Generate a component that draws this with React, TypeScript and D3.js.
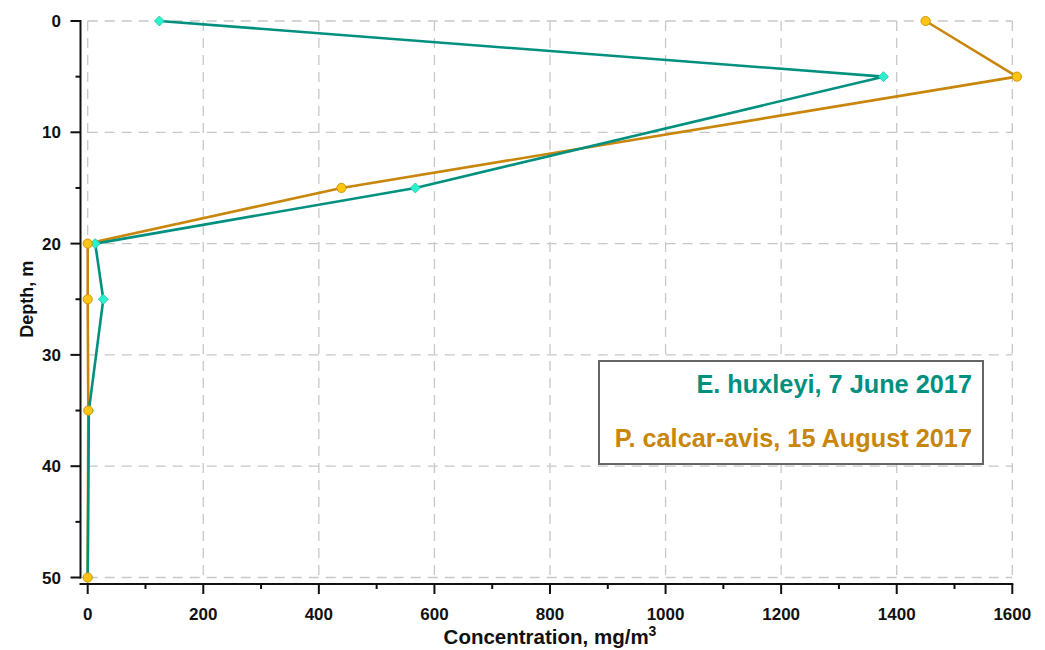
import React from "react";
import * as d3 from "d3";

const depths = [0, 5, 15, 20, 25, 35, 50];
const huxleyi = [124, 1377, 567, 13, 27, 2, 0];
const calcarAvis = [1450, 1608, 439, 0, 0, 1, 0];
const xTicks = [0, 200, 400, 600, 800, 1000, 1200, 1400, 1600];
const yTicks = [0, 10, 20, 30, 40, 50];
const legendLabels = ["E. huxleyi, 7 June 2017", "P. calcar-avis, 15 August 2017"];

const W = 1045;
const H = 650;
const TEAL = "#00907f";
const TEAL_FILL = "#2df0cc";
const ORANGE = "#c8860a";
const ORANGE_FILL = "#ffc414";
const FONT = "'Liberation Sans', Arial, sans-serif";

export default function App() {
  const x = d3.scaleLinear().domain([0, 1600]).range([87.7, 1012.3]);
  const y = d3.scaleLinear().domain([0, 50]).range([21, 577.5]);
  const xLeft = 80.5;
  const xAxisY = 584;
  const xMinor = d3.range(100, 1600, 200);
  const yMinor = d3.range(5, 50, 10);

  const line = d3
    .line<number>()
    .x((v) => x(v))
    .y((_, i) => y(depths[i]));

  const diamond = (cx: number, cy: number, r: number) =>
    `M${cx},${cy - r}L${cx + r},${cy}L${cx},${cy + r}L${cx - r},${cy}Z`;

  return (
    <svg width={W} height={H} style={{ position: "absolute", left: 0, top: 0, background: "#fff" }}>
      <rect x={0} y={0} width={W} height={H} fill="#fff" />
      {/* grid */}
      <g stroke="#c8c8c8" strokeWidth={1.3} strokeDasharray="10,7" fill="none">
        {xTicks.map((t) => (
          <line key={"gx" + t} x1={x(t)} x2={x(t)} y1={y(0)} y2={y(50)} />
        ))}
        {yTicks.map((t) => (
          <line key={"gy" + t} x1={x(0)} x2={x(1600)} y1={y(t)} y2={y(t)} />
        ))}
      </g>
      {/* y axis */}
      <g stroke="#111" strokeWidth={2}>
        <line x1={xLeft} x2={xLeft} y1={y(0) - 1} y2={y(50) + 1} />
        {yTicks.map((t) => (
          <line key={"yt" + t} x1={xLeft - 10} x2={xLeft} y1={y(t)} y2={y(t)} />
        ))}
        {yMinor.map((t) => (
          <line key={"ym" + t} x1={xLeft - 5} x2={xLeft} y1={y(t)} y2={y(t)} />
        ))}
      </g>
      <g fontFamily={FONT} fontWeight="bold" fontSize={17} fill="#111" textAnchor="end">
        {yTicks.map((t) => (
          <text key={"yl" + t} x={61} y={y(t) + 6}>
            {t}
          </text>
        ))}
      </g>
      {/* x axis */}
      <g stroke="#111" strokeWidth={2}>
        <line x1={xLeft - 1} x2={x(1600) + 1} y1={xAxisY} y2={xAxisY} />
        {xTicks.map((t) => (
          <line key={"xt" + t} x1={x(t)} x2={x(t)} y1={xAxisY} y2={xAxisY + 10} />
        ))}
        {xMinor.map((t) => (
          <line key={"xm" + t} x1={x(t)} x2={x(t)} y1={xAxisY} y2={xAxisY + 5} />
        ))}
      </g>
      <g fontFamily={FONT} fontWeight="bold" fontSize={17} fill="#111" textAnchor="middle">
        {xTicks.map((t) => (
          <text key={"xl" + t} x={x(t)} y={620}>
            {t}
          </text>
        ))}
      </g>
      <text x={550} y={644} fontFamily={FONT} fontWeight="bold" fontSize={20.5} fill="#111" textAnchor="middle">
        Concentration, mg/m
        <tspan fontSize={14} dy={-8}>
          3
        </tspan>
      </text>
      <text
        transform={`translate(33,${y(25)}) rotate(-90)`}
        fontFamily={FONT}
        fontWeight="bold"
        fontSize={18}
        fill="#111"
        textAnchor="middle"
      >
        Depth, m
      </text>
      {/* series */}
      <path d={line(calcarAvis) || ""} fill="none" stroke={ORANGE} strokeWidth={2.6} strokeLinejoin="round" />
      <path d={line(huxleyi) || ""} fill="none" stroke={TEAL} strokeWidth={2.6} strokeLinejoin="round" />
      {huxleyi.map((v, i) => (
        <path key={"hm" + i} d={diamond(x(v), y(depths[i]), 5)} fill={TEAL_FILL} stroke="#1cc4a8" strokeWidth={0.8} />
      ))}
      {calcarAvis.map((v, i) => (
        <circle key={"cm" + i} cx={x(v)} cy={y(depths[i])} r={4.6} fill={ORANGE_FILL} stroke="#c99200" strokeWidth={0.9} />
      ))}
      {/* legend */}
      <rect x={599} y={361} width={384} height={103} fill="#fff" stroke="#666" strokeWidth={2} />
      <g fontFamily={FONT} fontWeight="bold" fontSize={25.3} textAnchor="end">
        <text x={972} y={393} fill={TEAL}>
          {legendLabels[0]}
        </text>
        <text x={972} y={447} fill={ORANGE}>
          {legendLabels[1]}
        </text>
      </g>
    </svg>
  );
}
